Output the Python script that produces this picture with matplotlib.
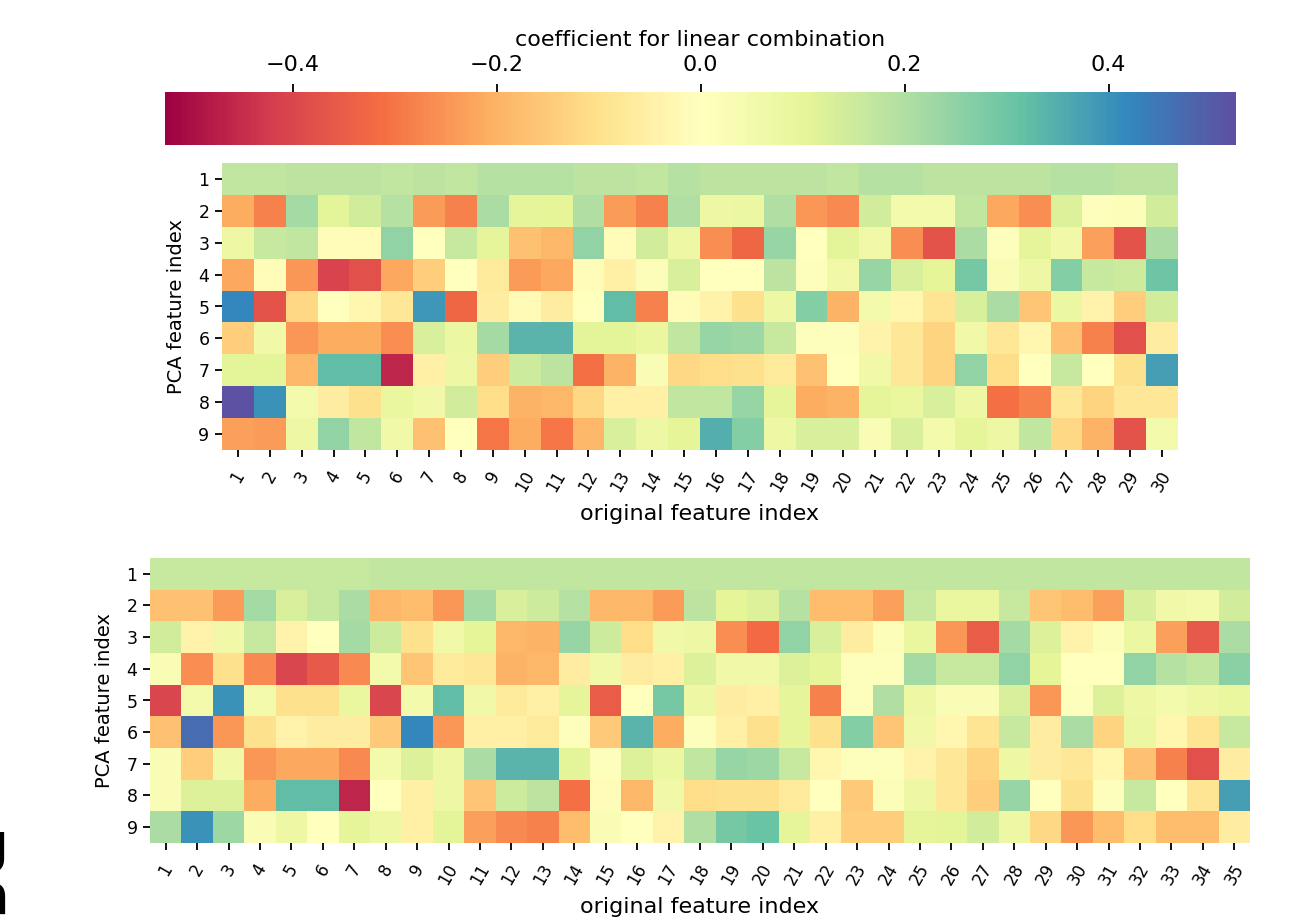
import numpy as np
import matplotlib
matplotlib.use('Agg')
import matplotlib.pyplot as plt

# coefficients, rows = PCA feature 1..9
top_coef = [
    [0.17, 0.17, 0.18, 0.18, 0.18, 0.17, 0.18, 0.17, 0.19, 0.19, 0.19, 0.18, 0.18, 0.17, 0.19,
     0.18, 0.18, 0.18, 0.18, 0.17, 0.19, 0.19, 0.18, 0.18, 0.18, 0.18, 0.19, 0.19, 0.18, 0.18],
    [-0.21, -0.28, 0.22, 0.11, 0.14, 0.19, -0.24, -0.28, 0.21, 0.10, 0.105, 0.20, -0.24, -0.28, 0.20,
     0.07, 0.08, 0.20, -0.25, -0.27, 0.14, 0.05, 0.05, 0.17, -0.22, -0.26, 0.12, 0.01, 0.02, 0.14],
    [0.07, 0.16, 0.17, -0.01, -0.01, 0.25, 0.0, 0.16, 0.10, -0.17, -0.19, 0.25, -0.01, 0.14, 0.07,
     -0.26, -0.33, 0.24, 0.0, 0.11, 0.06, -0.26, -0.37, 0.21, 0.01, 0.10, 0.06, -0.23, -0.37, 0.21],
    [-0.22, -0.01, -0.25, -0.41, -0.38, -0.22, -0.14, 0.0, -0.07, -0.24, -0.22, -0.01, -0.05, 0.02, 0.13,
     0.0, 0.0, 0.18, 0.01, 0.06, 0.24, 0.13, 0.105, 0.29, 0.03, 0.07, 0.27, 0.16, 0.15, 0.30],
    [0.42, -0.37, -0.12, 0.0, -0.03, -0.08, 0.39, -0.33, -0.06, -0.02, -0.06, 0.0, 0.32, -0.28, -0.01,
     -0.04, -0.10, 0.07, 0.27, -0.20, 0.05, -0.03, -0.09, 0.13, 0.21, -0.16, 0.08, -0.04, -0.14, 0.14],
    [-0.14, 0.06, -0.25, -0.21, -0.21, -0.26, 0.13, 0.08, 0.22, 0.34, 0.34, 0.11, 0.11, 0.09, 0.17,
     0.24, 0.23, 0.16, 0.01, 0.01, -0.04, -0.08, -0.13, 0.06, -0.08, -0.03, -0.17, -0.28, -0.38, -0.06],
    [0.11, 0.11, -0.19, 0.32, 0.32, -0.46, -0.05, 0.07, -0.14, 0.15, 0.18, -0.31, -0.20, 0.03, -0.12,
     -0.11, -0.10, -0.07, -0.17, 0.0, 0.06, -0.08, -0.13, 0.25, -0.11, 0.0, 0.16, 0.0, -0.10, 0.38],
    [0.52, 0.40, 0.05, -0.06, -0.10, 0.09, 0.06, 0.14, -0.11, -0.20, -0.19, -0.12, -0.05, -0.05, 0.17,
     0.17, 0.24, 0.10, -0.21, -0.20, 0.10, 0.09, 0.13, 0.07, -0.31, -0.28, -0.08, -0.13, -0.08, -0.08],
    [-0.23, -0.24, 0.07, 0.25, 0.17, 0.06, -0.17, 0.0, -0.30, -0.21, -0.30, -0.19, 0.13, 0.07, 0.105,
     0.35, 0.27, 0.07, 0.13, 0.13, 0.03, 0.13, 0.05, 0.10, 0.07, 0.17, -0.12, -0.20, -0.37, 0.05],
]

bottom_coef = [
    [0.16, 0.16, 0.16, 0.16, 0.16, 0.16, 0.16, 0.17, 0.17, 0.17, 0.17, 0.17, 0.17, 0.17, 0.17, 0.17, 0.17,
     0.17, 0.17, 0.17, 0.17, 0.17, 0.17, 0.17, 0.17, 0.17, 0.17, 0.17, 0.17, 0.17, 0.17, 0.17, 0.17, 0.17, 0.17],
    [-0.17, -0.17, -0.24, 0.22, 0.13, 0.16, 0.21, -0.19, -0.18, -0.25, 0.22, 0.13, 0.15, 0.19, -0.19, -0.19, -0.24,
     0.18, 0.105, 0.12, 0.19, -0.18, -0.18, -0.23, 0.16, 0.09, 0.09, 0.16, -0.16, -0.18, -0.23, 0.13, 0.06, 0.05, 0.14],
    [0.14, -0.04, 0.06, 0.16, -0.04, 0.0, 0.22, 0.15, -0.10, 0.06, 0.105, -0.19, -0.20, 0.24, 0.15, -0.11, 0.06,
     0.07, -0.26, -0.32, 0.25, 0.13, -0.06, 0.02, 0.09, -0.25, -0.35, 0.22, 0.12, -0.04, 0.02, 0.08, -0.23, -0.36, 0.21],
    [0.03, -0.26, -0.10, -0.27, -0.40, -0.36, -0.27, 0.05, -0.16, -0.07, -0.08, -0.20, -0.19, -0.06, 0.06, -0.06, -0.05,
     0.12, 0.06, 0.06, 0.12, 0.10, 0.01, 0.01, 0.22, 0.16, 0.16, 0.25, 0.105, 0.0, 0.0, 0.25, 0.19, 0.17, 0.26],
    [-0.40, 0.05, 0.40, 0.05, -0.10, -0.10, 0.09, -0.40, 0.05, 0.32, 0.06, -0.07, -0.05, 0.10, -0.35, 0.0, 0.29,
     0.07, -0.06, -0.05, 0.10, -0.28, 0.01, 0.20, 0.07, 0.03, 0.03, 0.13, -0.25, 0.01, 0.12, 0.07, 0.05, 0.07, 0.09],
    [-0.17, 0.47, -0.25, -0.10, -0.04, -0.06, -0.06, -0.15, 0.42, -0.25, -0.05, -0.05, -0.07, 0.01, -0.15, 0.34, -0.21,
     0.01, -0.05, -0.10, 0.10, -0.10, 0.27, -0.16, 0.06, -0.03, -0.09, 0.16, -0.06, 0.21, -0.13, 0.08, -0.03, -0.09, 0.16],
    [0.03, -0.14, 0.06, -0.25, -0.22, -0.22, -0.27, 0.05, 0.12, 0.07, 0.21, 0.34, 0.34, 0.11, 0.01, 0.12, 0.08,
     0.17, 0.24, 0.23, 0.16, -0.03, 0.01, 0.01, -0.04, -0.08, -0.13, 0.07, -0.06, -0.08, -0.03, -0.17, -0.28, -0.38, -0.06],
    [0.03, 0.12, 0.12, -0.21, 0.32, 0.32, -0.46, 0.0, -0.05, 0.07, -0.16, 0.15, 0.18, -0.31, -0.01, -0.19, 0.06,
     -0.11, -0.10, -0.10, -0.07, 0.0, -0.15, 0.02, 0.07, -0.08, -0.14, 0.24, 0.0, -0.10, 0.01, 0.16, 0.0, -0.09, 0.38],
    [0.21, 0.40, 0.23, 0.03, 0.07, 0.0, 0.10, 0.07, -0.05, 0.11, -0.23, -0.27, -0.28, -0.18, 0.03, 0.0, -0.04,
     0.20, 0.29, 0.31, 0.10, -0.05, -0.14, -0.14, 0.10, 0.11, 0.14, 0.07, -0.12, -0.25, -0.18, -0.11, -0.18, -0.18, -0.06],
]

pca_labels = [str(i) for i in range(1, 10)]
vmin, vmax = -0.525, 0.525

W, H = 1304, 921
fig = plt.figure(figsize=(W / 100, H / 100), dpi=100)


def px_axes(x0, y0, x1, y1):
    return fig.add_axes([x0 / W, 1 - y1 / H, (x1 - x0) / W, (y1 - y0) / H])


def draw_heat(ax, data):
    data = np.array(data)
    nrow, ncol = data.shape
    mesh = ax.pcolormesh(data, cmap='Spectral', vmin=vmin, vmax=vmax)
    ax.set_xlim(0, ncol)
    ax.set_ylim(nrow, 0)
    ax.set_xticks(np.arange(ncol) + 0.5)
    ax.set_xticklabels([str(i) for i in range(1, ncol + 1)], rotation=60, fontsize=12)
    ax.set_yticks(np.arange(nrow) + 0.5)
    ax.set_yticklabels(pca_labels, fontsize=12.5)
    ax.tick_params(length=5, width=1.3, pad=4)
    ax.tick_params(axis='x', pad=8)
    for s in ax.spines.values():
        s.set_visible(False)
    ax.set_xlabel('original feature index', fontsize=16, labelpad=6)
    ax.set_ylabel('PCA feature index', fontsize=14, labelpad=9)
    return mesh


ax1 = px_axes(222, 163, 1178, 450)
mesh = draw_heat(ax1, top_coef)

ax2 = px_axes(150, 558, 1250, 843)
draw_heat(ax2, bottom_coef)

cax = px_axes(165, 92, 1236, 145)
cb = fig.colorbar(mesh, cax=cax, orientation='horizontal')
cb.outline.set_visible(False)
cax.xaxis.set_ticks_position('top')
cax.xaxis.set_label_position('top')
cb.set_ticks([-0.4, -0.2, 0.0, 0.2, 0.4])
cax.tick_params(length=6, width=1.3, labelsize=16, pad=6.5)
cb.set_label('coefficient for linear combination', fontsize=16, labelpad=6)

# cut-off caption letters at the left edge
fig.text(-0.024, 1 - 862 / H, 'g', fontsize=40, fontweight='bold', va='baseline', ha='left')
fig.text(-0.022, 1 - 913 / H, 'a', fontsize=40, fontweight='bold', va='baseline', ha='left')

fig.savefig('out.png', dpi=100)
